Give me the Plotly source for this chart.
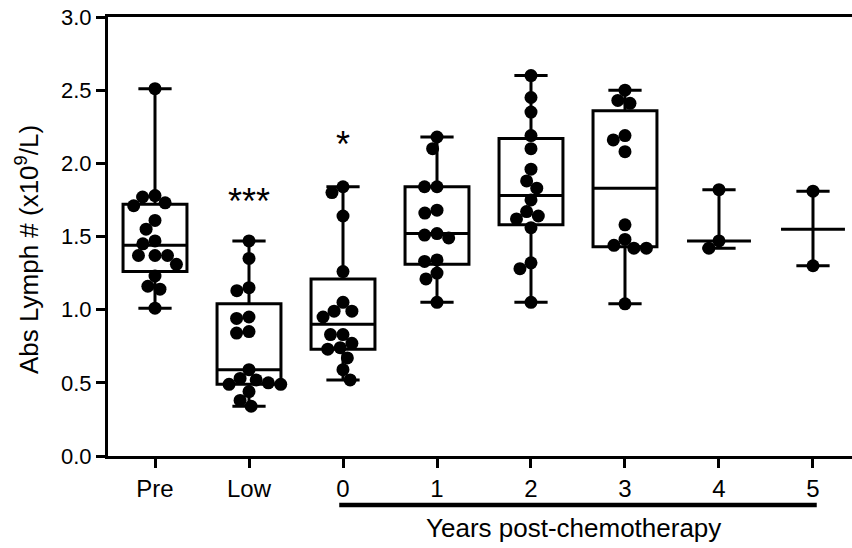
import plotly.graph_objects as go

# ---------------- data ----------------
groups = ["Pre", "Low", "0", "1", "2", "3", "4", "5"]

pre = [2.51, 1.78, 1.77, 1.73, 1.71, 1.61, 1.55, 1.47, 1.45, 1.37, 1.37, 1.37,
       1.31, 1.23, 1.16, 1.14, 1.01]
low = [1.47, 1.35, 1.15, 1.13, 0.95, 0.94, 0.85, 0.84, 0.59, 0.53, 0.52, 0.50,
       0.49, 0.49, 0.44, 0.38, 0.34]
yr0 = [1.84, 1.80, 1.64, 1.26, 1.05, 0.99, 0.99, 0.95, 0.83, 0.83, 0.77, 0.74,
       0.73, 0.67, 0.59, 0.52]
yr1 = [2.18, 2.10, 1.84, 1.84, 1.68, 1.66, 1.52, 1.51, 1.49, 1.34, 1.33, 1.25,
       1.21, 1.05]
yr2 = [2.60, 2.45, 2.35, 2.19, 2.10, 1.96, 1.88, 1.83, 1.75, 1.67, 1.64, 1.62,
       1.56, 1.32, 1.28, 1.05]
yr3 = [2.50, 2.43, 2.41, 2.19, 2.16, 2.08, 1.58, 1.48, 1.44, 1.42, 1.42, 1.04]
yr4 = [1.82, 1.47, 1.42]
yr5 = [1.81, 1.30]

q1 = [1.26, 0.49, 0.73, 1.31, 1.58, 1.43, 1.47, 1.55]
median = [1.44, 0.59, 0.90, 1.52, 1.78, 1.83, 1.47, 1.55]
q3 = [1.72, 1.04, 1.21, 1.84, 2.17, 2.36, 1.47, 1.55]

y_ticks = [0.0, 0.5, 1.0, 1.5, 2.0, 2.5, 3.0]
y_tick_labels = ["0.0", "0.5", "1.0", "1.5", "2.0", "2.5", "3.0"]

significance = ["", "***", "*", "", "", "", "", ""]
sig_height = [None, 1.74, 2.13, None, None, None, None, None]

# ---------------- geometry ----------------
W, H = 852, 548
ML, MR, MT, MB = 108, 0, 17, 92
XR = [-0.5, 7.415]
YR = [0, 3]
plot_w = W - ML - MR
plot_h = H - MT - MB
sx = plot_w / (XR[1] - XR[0])   # px per x unit
sy = plot_h / (YR[1] - YR[0])   # px per y unit
DOT = 13

values = [pre, low, yr0, yr1, yr2, yr3, yr4, yr5]
mins = [min(v) for v in values]
maxs = [max(v) for v in values]


def swarm(vals, d_px):
    placed = []
    out = [0.0] * len(vals)
    order = sorted(range(len(vals)), key=lambda i: -vals[i])
    for i in order:
        y = vals[i] * sy
        cands = [0.0]
        for px, py in placed:
            dy = y - py
            if abs(dy) < d_px:
                dx = (d_px ** 2 - dy ** 2) ** 0.5
                cands += [px + dx, px - dx]
        cands.sort(key=lambda c: (round(abs(c), 6), c))
        chosen = cands[-1]
        for c in cands:
            if all((c - px) ** 2 + (y - py) ** 2 >= d_px ** 2 - 1e-6 for px, py in placed):
                chosen = c
                break
        placed.append((chosen, y))
        out[i] = chosen / sx
    return out


px_x, px_y = [], []
for gi, vals in enumerate(values):
    offs = swarm(vals, DOT - 0.5)
    px_x += [gi + o for o in offs]
    px_y += vals

FONT = "Liberation Sans, Arial, Helvetica, sans-serif"

fig = go.Figure()
fig.add_trace(go.Box(
    x=list(range(len(groups))), q1=q1, median=median, q3=q3,
    lowerfence=mins, upperfence=maxs,
    width=0.68, whiskerwidth=0.52,
    line=dict(color="black", width=3), fillcolor="rgba(0,0,0,0)",
    boxpoints=False, hoverinfo="skip", showlegend=False))
fig.add_trace(go.Scatter(
    x=px_x, y=px_y, mode="markers",
    marker=dict(color="black", size=DOT, line=dict(width=0)),
    hoverinfo="skip", showlegend=False, cliponaxis=False))

for gi, s in enumerate(significance):
    if s:
        fig.add_annotation(x=gi, y=sig_height[gi], xref="x", yref="y", text=s,
                           showarrow=False, font=dict(size=36, color="black", family=FONT),
                           xanchor="center", yanchor="middle")

# bracket under years
y_br = -(505 - (H - MB)) / plot_h
fig.add_shape(type="line", xref="x", yref="paper", x0=1.96, x1=7.04, y0=y_br, y1=y_br,
              line=dict(color="black", width=4.5))
fig.add_annotation(x=4.45, y=-(528 - (H - MB)) / plot_h, xref="x", yref="paper",
                   text="Years post-chemotherapy", showarrow=False,
                   font=dict(size=26, color="black", family=FONT),
                   xanchor="center", yanchor="middle")
fig.add_annotation(x=(27 - ML) / plot_w, y=((H - MB) - 250) / plot_h, xref="paper", yref="paper",
                   text="Abs Lymph # (x10<sup>9</sup>/L)", textangle=-90, showarrow=False,
                   font=dict(size=26, color="black", family=FONT),
                   xanchor="center", yanchor="middle")

fig.update_layout(
    width=W, height=H, margin=dict(l=ML, r=MR, t=MT, b=MB),
    plot_bgcolor="white", paper_bgcolor="white",
    font=dict(family=FONT, color="black"),
    xaxis=dict(range=XR, tickmode="array", tickvals=list(range(len(groups))), ticktext=groups,
               showline=True, linecolor="black", linewidth=3, mirror=True,
               ticks="outside", ticklen=9, tickwidth=3, tickcolor="black",
               showgrid=False, zeroline=False, tickfont=dict(size=24, family=FONT)),
    yaxis=dict(range=YR, tickmode="array", tickvals=y_ticks, ticktext=y_tick_labels,
               showline=True, linecolor="black", linewidth=3,
               ticks="outside", ticklen=9, tickwidth=3, tickcolor="black",
               showgrid=False, zeroline=False, tickfont=dict(size=22, family=FONT)),
)

fig.write_html("out.html", config={"displayModeBar": False},
               post_script="document.body.style.margin='0';document.body.style.overflow='hidden';")
